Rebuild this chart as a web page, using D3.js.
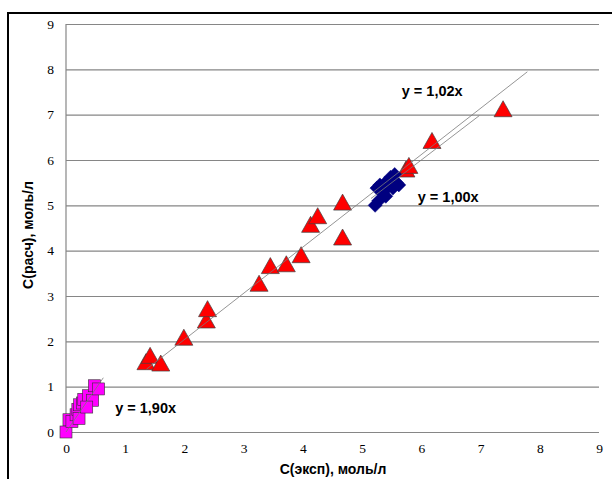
<!DOCTYPE html>
<html><head><meta charset="utf-8">
<script src="https://cdn.jsdelivr.net/npm/d3@7"></script>
<style>body{margin:0;background:#fff}svg{display:block}</style>
</head><body>
<svg id="c" width="612" height="479"></svg>
<script>
// Data
const xTicks = [0,1,2,3,4,5,6,7,8,9];
const yTicks = [0,1,2,3,4,5,6,7,8,9];
const xTitle = "C(эксп), моль/л";
const yTitle = "C(расч), моль/л";

const squaresX = [0.00,0.05,0.10,0.17,0.20,0.23,0.28,0.30,0.38,0.45,0.48,0.55,0.22,0.35];
const squaresY = [0.00,0.27,0.23,0.38,0.50,0.60,0.64,0.72,0.80,0.70,1.02,0.95,0.30,0.55];

const diamondsX = [5.22,5.28,5.25,5.33,5.38,5.45,5.48,5.55,5.58,5.52,5.40,5.30,5.62];
const diamondsY = [5.00,5.10,5.38,5.30,5.48,5.42,5.62,5.68,5.50,5.38,5.20,5.45,5.45];

const trianglesX = [1.35,1.42,1.60,1.99,2.37,2.39,3.26,3.45,3.72,3.97,4.13,4.25,4.67,4.67,5.74,5.79,6.18,7.38];
const trianglesY = [1.54,1.68,1.51,2.08,2.46,2.71,3.27,3.66,3.70,3.90,4.57,4.76,5.06,4.29,5.79,5.87,6.42,7.12];

const trendNames = ["y = 1,02x","y = 1,00x","y = 1,90x"];
const trendSlopes = [1.02,1.00,1.90];
const trendFrom = [1.36,5.15,0.00];
const trendTo = [7.79,6.98,0.63];
const trendLabelX = [5.67,5.94,0.83];
const trendLabelY = [7.41,5.07,0.41];

(function(){
const svg = d3.select("#c");
const pL = 66, pR = 599, pT = 24, pB = 432;

const x = d3.scaleLinear().domain([0,9]).range([pL,pR]);
const y = d3.scaleLinear().domain([0,9]).range([pB,pT]);

// outer border
svg.append("rect").attr("x",8).attr("y",13).attr("width",700).attr("height",600)
  .attr("fill","none").attr("stroke","#000").attr("stroke-width",2);

// gridlines
const gy = svg.append("g").attr("transform",`translate(${pL},0)`)
  .call(d3.axisLeft(y).tickValues(yTicks).tickSize(-(pR-pL)).tickFormat(""));
gy.select(".domain").remove();
gy.selectAll(".tick line").attr("stroke","#868686").attr("stroke-width",1.2);

// y axis line
svg.append("line").attr("x1",pL).attr("x2",pL).attr("y1",pT).attr("y2",pB)
  .attr("stroke","#868686").attr("stroke-width",1.2);

// tick labels
const yl = svg.append("g").attr("transform",`translate(${pL},0)`)
  .call(d3.axisLeft(y).tickValues(yTicks).tickSize(0).tickPadding(12).tickFormat(d3.format("d")));
yl.select(".domain").remove();
yl.selectAll("text").attr("font-family","'Liberation Serif','Times New Roman',serif").attr("font-size",13.5).attr("fill","#000");

const xl = svg.append("g").attr("transform",`translate(0,${pB})`)
  .call(d3.axisBottom(x).tickValues(xTicks).tickSize(0).tickPadding(11).tickFormat(d3.format("d")));
xl.select(".domain").remove();
xl.selectAll("text").attr("font-family","'Liberation Serif','Times New Roman',serif").attr("font-size",13.5).attr("fill","#000");

// axis titles
svg.append("text").attr("x",333).attr("y",474).attr("text-anchor","middle")
  .attr("font-family","'Liberation Sans',Arial,sans-serif").attr("font-weight","bold").attr("font-size",14)
  .text(xTitle);
svg.append("text").attr("transform","translate(33,235) rotate(-90)").attr("text-anchor","middle")
  .attr("font-family","'Liberation Sans',Arial,sans-serif").attr("font-weight","bold").attr("font-size",14)
  .text(yTitle);

// markers
const gm = svg.append("g");
trianglesX.forEach((v,i)=>{
  const cx = x(v), cy = y(trianglesY[i]);
  gm.append("path").attr("d",`M${cx},${cy-8.5}L${cx+9},${cy+7.5}L${cx-9},${cy+7.5}Z`)
    .attr("fill","#ff0000").attr("stroke","#404040").attr("stroke-width",0.7);
});
diamondsX.forEach((v,i)=>{
  const cx = x(v), cy = y(diamondsY[i]);
  gm.append("path").attr("d",`M${cx},${cy-7}L${cx+7},${cy}L${cx},${cy+7}L${cx-7},${cy}Z`)
    .attr("fill","#000080").attr("stroke","#000080").attr("stroke-width",0.5);
});
squaresX.forEach((v,i)=>{
  const cx = x(v), cy = y(squaresY[i]);
  gm.append("rect").attr("x",cx-6).attr("y",cy-6).attr("width",12).attr("height",12)
    .attr("fill","#ff00ff").attr("stroke","#333").attr("stroke-width",0.6);
});

// trend lines
trendSlopes.forEach((s,i)=>{
  svg.append("line").attr("x1",x(trendFrom[i])).attr("y1",y(s*trendFrom[i]))
    .attr("x2",x(trendTo[i])).attr("y2",y(s*trendTo[i]))
    .attr("stroke","#7a7a7a").attr("stroke-width",0.8);
  svg.append("text").attr("x",x(trendLabelX[i])).attr("y",y(trendLabelY[i]))
    .attr("font-family","'Liberation Sans',Arial,sans-serif").attr("font-weight","bold").attr("font-size",14.5)
    .text(trendNames[i]);
});
})();
</script>
</body></html>
